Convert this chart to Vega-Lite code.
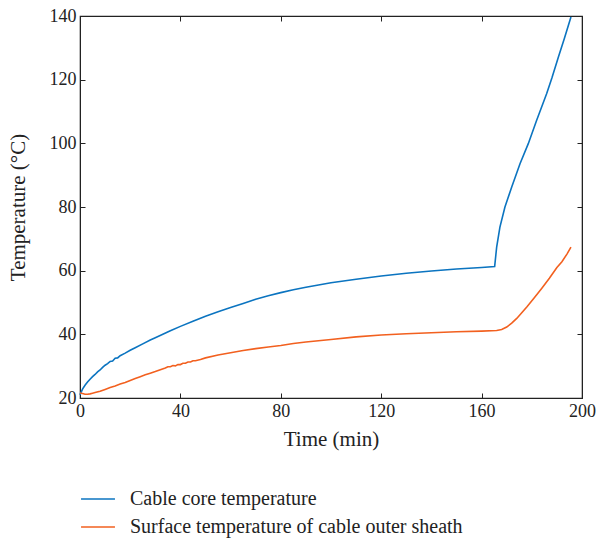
{
  "$schema": "https://vega.github.io/schema/vega-lite/v6.json",
  "autosize": "none",
  "width": 502,
  "height": 382,
  "padding": {"left": 80, "top": 16, "right": 15, "bottom": 141},
  "background": "white",
  "config": {
    "font": "Liberation Serif",
    "view": {"stroke": "#222", "strokeWidth": 1.2},
    "axis": {"labelFont": "Liberation Serif", "titleFont": "Liberation Serif", "labelFontSize": 18, "titleFontSize": 21, "titleFontWeight": "normal", "labelColor": "#222", "titleColor": "#222", "grid": false, "domainColor": "#222", "tickColor": "#222", "tickSize": -5, "labelPadding": 9, "labelFlush": false}
  },
  "datasets": {
    "d": [
      {"t":0,"temp":21.0,"s":"Cable core temperature"},
      {"t":1,"temp":22.8,"s":"Cable core temperature"},
      {"t":2,"temp":24.0,"s":"Cable core temperature"},
      {"t":3,"temp":25.0,"s":"Cable core temperature"},
      {"t":4,"temp":25.9,"s":"Cable core temperature"},
      {"t":5,"temp":26.7,"s":"Cable core temperature"},
      {"t":6,"temp":27.4,"s":"Cable core temperature"},
      {"t":7,"temp":28.2,"s":"Cable core temperature"},
      {"t":8,"temp":28.8,"s":"Cable core temperature"},
      {"t":9,"temp":29.6,"s":"Cable core temperature"},
      {"t":10,"temp":30.3,"s":"Cable core temperature"},
      {"t":11,"temp":30.8,"s":"Cable core temperature"},
      {"t":12,"temp":31.5,"s":"Cable core temperature"},
      {"t":13,"temp":31.6,"s":"Cable core temperature"},
      {"t":14,"temp":32.5,"s":"Cable core temperature"},
      {"t":15,"temp":32.6,"s":"Cable core temperature"},
      {"t":16,"temp":33.3,"s":"Cable core temperature"},
      {"t":18,"temp":34.1,"s":"Cable core temperature"},
      {"t":20,"temp":35.0,"s":"Cable core temperature"},
      {"t":22,"temp":35.8,"s":"Cable core temperature"},
      {"t":25,"temp":37.0,"s":"Cable core temperature"},
      {"t":28,"temp":38.2,"s":"Cable core temperature"},
      {"t":30,"temp":38.9,"s":"Cable core temperature"},
      {"t":33,"temp":40.0,"s":"Cable core temperature"},
      {"t":36,"temp":41.1,"s":"Cable core temperature"},
      {"t":40,"temp":42.5,"s":"Cable core temperature"},
      {"t":45,"temp":44.1,"s":"Cable core temperature"},
      {"t":50,"temp":45.7,"s":"Cable core temperature"},
      {"t":55,"temp":47.1,"s":"Cable core temperature"},
      {"t":60,"temp":48.4,"s":"Cable core temperature"},
      {"t":65,"temp":49.7,"s":"Cable core temperature"},
      {"t":70,"temp":51.0,"s":"Cable core temperature"},
      {"t":75,"temp":52.1,"s":"Cable core temperature"},
      {"t":80,"temp":53.1,"s":"Cable core temperature"},
      {"t":85,"temp":54.0,"s":"Cable core temperature"},
      {"t":90,"temp":54.8,"s":"Cable core temperature"},
      {"t":95,"temp":55.5,"s":"Cable core temperature"},
      {"t":100,"temp":56.2,"s":"Cable core temperature"},
      {"t":110,"temp":57.3,"s":"Cable core temperature"},
      {"t":120,"temp":58.3,"s":"Cable core temperature"},
      {"t":130,"temp":59.2,"s":"Cable core temperature"},
      {"t":140,"temp":59.9,"s":"Cable core temperature"},
      {"t":150,"temp":60.5,"s":"Cable core temperature"},
      {"t":160,"temp":61.0,"s":"Cable core temperature"},
      {"t":165.2,"temp":61.3,"s":"Cable core temperature"},
      {"t":166.0,"temp":67.4,"s":"Cable core temperature"},
      {"t":167.3,"temp":73.7,"s":"Cable core temperature"},
      {"t":169.3,"temp":80.0,"s":"Cable core temperature"},
      {"t":172.0,"temp":86.3,"s":"Cable core temperature"},
      {"t":175.3,"temp":93.6,"s":"Cable core temperature"},
      {"t":178.6,"temp":99.9,"s":"Cable core temperature"},
      {"t":181.9,"temp":107.2,"s":"Cable core temperature"},
      {"t":185.9,"temp":115.6,"s":"Cable core temperature"},
      {"t":188.0,"temp":120.5,"s":"Cable core temperature"},
      {"t":190.6,"temp":127.1,"s":"Cable core temperature"},
      {"t":193.0,"temp":133.0,"s":"Cable core temperature"},
      {"t":195.6,"temp":139.7,"s":"Cable core temperature"},
      {"t":0,"temp":21.6,"s":"Surface temperature of cable outer sheath"},
      {"t":1,"temp":21.4,"s":"Surface temperature of cable outer sheath"},
      {"t":2,"temp":21.2,"s":"Surface temperature of cable outer sheath"},
      {"t":3,"temp":21.2,"s":"Surface temperature of cable outer sheath"},
      {"t":4,"temp":21.3,"s":"Surface temperature of cable outer sheath"},
      {"t":5,"temp":21.5,"s":"Surface temperature of cable outer sheath"},
      {"t":6,"temp":21.7,"s":"Surface temperature of cable outer sheath"},
      {"t":8,"temp":22.1,"s":"Surface temperature of cable outer sheath"},
      {"t":10,"temp":22.7,"s":"Surface temperature of cable outer sheath"},
      {"t":12,"temp":23.3,"s":"Surface temperature of cable outer sheath"},
      {"t":14,"temp":23.8,"s":"Surface temperature of cable outer sheath"},
      {"t":16,"temp":24.4,"s":"Surface temperature of cable outer sheath"},
      {"t":18,"temp":24.9,"s":"Surface temperature of cable outer sheath"},
      {"t":20,"temp":25.5,"s":"Surface temperature of cable outer sheath"},
      {"t":22,"temp":26.1,"s":"Surface temperature of cable outer sheath"},
      {"t":24,"temp":26.7,"s":"Surface temperature of cable outer sheath"},
      {"t":26,"temp":27.3,"s":"Surface temperature of cable outer sheath"},
      {"t":28,"temp":27.8,"s":"Surface temperature of cable outer sheath"},
      {"t":30,"temp":28.3,"s":"Surface temperature of cable outer sheath"},
      {"t":32,"temp":28.9,"s":"Surface temperature of cable outer sheath"},
      {"t":34,"temp":29.4,"s":"Surface temperature of cable outer sheath"},
      {"t":35,"temp":29.8,"s":"Surface temperature of cable outer sheath"},
      {"t":36,"temp":29.8,"s":"Surface temperature of cable outer sheath"},
      {"t":37,"temp":30.2,"s":"Surface temperature of cable outer sheath"},
      {"t":38,"temp":30.1,"s":"Surface temperature of cable outer sheath"},
      {"t":39,"temp":30.5,"s":"Surface temperature of cable outer sheath"},
      {"t":40,"temp":30.5,"s":"Surface temperature of cable outer sheath"},
      {"t":41,"temp":30.9,"s":"Surface temperature of cable outer sheath"},
      {"t":42,"temp":30.9,"s":"Surface temperature of cable outer sheath"},
      {"t":43,"temp":31.3,"s":"Surface temperature of cable outer sheath"},
      {"t":44,"temp":31.3,"s":"Surface temperature of cable outer sheath"},
      {"t":45,"temp":31.7,"s":"Surface temperature of cable outer sheath"},
      {"t":46,"temp":31.7,"s":"Surface temperature of cable outer sheath"},
      {"t":48,"temp":32.1,"s":"Surface temperature of cable outer sheath"},
      {"t":50,"temp":32.6,"s":"Surface temperature of cable outer sheath"},
      {"t":55,"temp":33.5,"s":"Surface temperature of cable outer sheath"},
      {"t":60,"temp":34.2,"s":"Surface temperature of cable outer sheath"},
      {"t":65,"temp":34.9,"s":"Surface temperature of cable outer sheath"},
      {"t":70,"temp":35.5,"s":"Surface temperature of cable outer sheath"},
      {"t":75,"temp":36.0,"s":"Surface temperature of cable outer sheath"},
      {"t":80,"temp":36.5,"s":"Surface temperature of cable outer sheath"},
      {"t":85,"temp":37.1,"s":"Surface temperature of cable outer sheath"},
      {"t":90,"temp":37.6,"s":"Surface temperature of cable outer sheath"},
      {"t":95,"temp":38.0,"s":"Surface temperature of cable outer sheath"},
      {"t":100,"temp":38.4,"s":"Surface temperature of cable outer sheath"},
      {"t":110,"temp":39.2,"s":"Surface temperature of cable outer sheath"},
      {"t":120,"temp":39.8,"s":"Surface temperature of cable outer sheath"},
      {"t":130,"temp":40.2,"s":"Surface temperature of cable outer sheath"},
      {"t":140,"temp":40.5,"s":"Surface temperature of cable outer sheath"},
      {"t":150,"temp":40.8,"s":"Surface temperature of cable outer sheath"},
      {"t":160,"temp":41.0,"s":"Surface temperature of cable outer sheath"},
      {"t":166,"temp":41.2,"s":"Surface temperature of cable outer sheath"},
      {"t":168,"temp":41.5,"s":"Surface temperature of cable outer sheath"},
      {"t":170,"temp":42.3,"s":"Surface temperature of cable outer sheath"},
      {"t":172,"temp":43.5,"s":"Surface temperature of cable outer sheath"},
      {"t":174,"temp":45.0,"s":"Surface temperature of cable outer sheath"},
      {"t":176,"temp":46.8,"s":"Surface temperature of cable outer sheath"},
      {"t":178,"temp":48.6,"s":"Surface temperature of cable outer sheath"},
      {"t":181,"temp":51.5,"s":"Surface temperature of cable outer sheath"},
      {"t":184,"temp":54.5,"s":"Surface temperature of cable outer sheath"},
      {"t":187,"temp":57.6,"s":"Surface temperature of cable outer sheath"},
      {"t":190,"temp":61.0,"s":"Surface temperature of cable outer sheath"},
      {"t":192,"temp":62.8,"s":"Surface temperature of cable outer sheath"},
      {"t":194,"temp":65.2,"s":"Surface temperature of cable outer sheath"},
      {"t":195.6,"temp":67.4,"s":"Surface temperature of cable outer sheath"}
    ]
  },
  "data": {"name": "d"},
  "resolve": {"axis": {"x": "independent", "y": "independent"}},
  "layer": [
    {
      "mark": {"type": "line", "strokeWidth": 1.6},
      "encoding": {
        "x": {"field": "t", "type": "quantitative", "scale": {"domain": [0, 200], "nice": false}, "axis": {"title": "Time (min)", "values": [0, 40, 80, 120, 160, 200], "titlePadding": 8}},
        "y": {"field": "temp", "type": "quantitative", "scale": {"domain": [20, 140], "nice": false, "zero": false}, "axis": {"title": "Temperature (°C)", "values": [20, 40, 60, 80, 100, 120, 140], "titlePadding": 21}},
        "color": {"field": "s", "type": "nominal", "scale": {"domain": ["Cable core temperature", "Surface temperature of cable outer sheath"], "range": ["#0B74C0", "#F2601F"]},
          "legend": {"title": null, "orient": "none", "legendX": 0, "legendY": 465, "direction": "vertical", "symbolType": "stroke", "symbolSize": 1150, "symbolStrokeWidth": 1.6, "labelFont": "Liberation Serif", "labelFontSize": 20, "labelColor": "#222", "labelOffset": 14, "rowPadding": 0, "labelLimit": 500}}
      }
    },
    {
      "mark": {"type": "line", "opacity": 0},
      "encoding": {
        "x": {"field": "t", "type": "quantitative", "axis": {"orient": "top", "title": null, "labels": false, "values": [0, 40, 80, 120, 160, 200]}},
        "y": {"field": "temp", "type": "quantitative", "axis": {"orient": "right", "title": null, "labels": false, "values": [20, 40, 60, 80, 100, 120, 140]}}
      }
    }
  ]
}
